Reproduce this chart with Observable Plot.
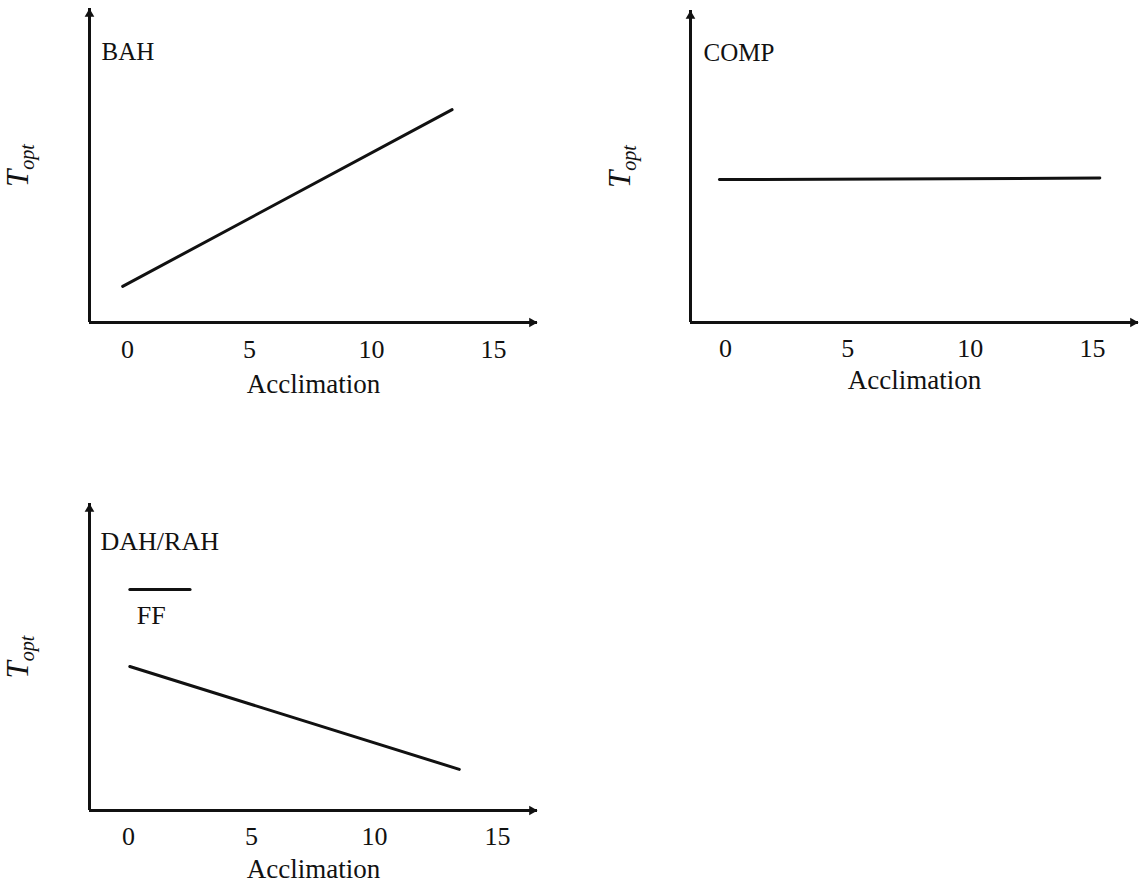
<!DOCTYPE html>
<html><head><meta charset="utf-8">
<script src="https://cdn.jsdelivr.net/npm/d3@7"></script>
<script src="https://cdn.jsdelivr.net/npm/@observablehq/plot@0.6"></script>
<style>
body{margin:0;background:#fff}
#wrap{position:relative;width:1140px;height:885px;overflow:hidden;background:#fff}
#wrap svg{position:absolute}
</style></head><body><div id="wrap"></div>
<script>
// ---- data ----
const acclimationTicks = [0, 5, 10, 15];
const xLabel = "Acclimation";
const yLabel = "Topt";
const panelTitles = ["BAH", "COMP", "DAH/RAH"];
const bahX = [-0.2, 13.3];
const bahY = [1.15, 6.78];
const compX = [-0.25, 15.3];
const compY = [4.58, 4.63];
const dahX = [0.05, 13.45];
const dahY = [4.69, 1.34];
const ffX = [0.05, 2.5];
const ffY = [7.2, 7.2];
const ffLabel = "FF";

const INK = "#111";
const FONT = "'Liberation Serif', 'Times New Roman', serif";
const wrap = document.getElementById("wrap");

function panel(o) {
  const svg = Plot.plot({
    width: o.width, height: o.height,
    marginLeft: o.marginLeft, marginRight: o.marginRight,
    marginTop: o.marginTop, marginBottom: o.marginBottom,
    style: {fontFamily: FONT, fontSize: "26px", background: "transparent", overflow: "visible", color: INK},
    x: {domain: o.xDomain},
    y: {domain: [0, 10]},
    marks: [
      Plot.axisX({ticks: acclimationTicks, tickSize: 0, tickPadding: o.tickPadding, fontSize: 26,
        label: xLabel, labelAnchor: "center", labelOffset: o.labelOffset, labelArrow: "none", fill: INK}),
      Plot.axisY({ticks: [], label: yLabel, labelAnchor: "center", labelOffset: o.yLabelOffset, labelArrow: "none", fill: INK}),
      Plot.ruleY([0], {stroke: INK, strokeWidth: 3}),
      Plot.ruleX([o.xDomain[0]], {stroke: INK, strokeWidth: 3}),
      Plot.dot([0], {x: o.xDomain[1], y: 0, symbol: "triangle", rotate: 90, r: 3.6, fill: INK, stroke: "none", dx: -5.5}),
      Plot.dot([0], {x: o.xDomain[0], y: 10, symbol: "triangle", r: 3.6, fill: INK, stroke: "none", dy: 5.5}),
      Plot.line(o.lineX, {x: o.lineX, y: o.lineY, stroke: INK, strokeWidth: 3}),
      Plot.text([o.title], {frameAnchor: "top-left", dx: o.titleDx, dy: o.titleDy, textAnchor: "start",
        lineAnchor: "bottom", fontSize: o.titleSize || 25, fill: INK}),
      ...(o.extra || [])
    ]
  });
  svg.style.left = o.left + "px";
  svg.style.top = o.top + "px";
  svg.querySelectorAll('g[aria-label="x-axis label"] text').forEach(t => t.setAttribute("font-size", 27));
  const yl = svg.querySelector('g[aria-label="y-axis label"] text');
  if (yl) {
    const ns = "http://www.w3.org/2000/svg";
    yl.textContent = "";
    const t1 = document.createElementNS(ns, "tspan");
    t1.setAttribute("font-style", "italic");
    t1.setAttribute("font-size", 31);
    t1.textContent = yLabel.slice(0, 1);
    const t2 = document.createElementNS(ns, "tspan");
    t2.setAttribute("font-style", "italic");
    t2.setAttribute("font-size", 20);
    t2.setAttribute("dy", 6);
    t2.textContent = yLabel.slice(1);
    yl.appendChild(t1); yl.appendChild(t2);
  }
  wrap.appendChild(svg);
}

panel({left: 0, top: 0, width: 570, height: 410, marginLeft: 89, marginRight: 33, marginTop: 8, marginBottom: 88,
  xDomain: [-1.56, 16.8], lineX: bahX, lineY: bahY, title: panelTitles[0], titleDx: 12, titleDy: 51,
  tickPadding: 17, labelOffset: 70, yLabelOffset: 80});

panel({left: 600, top: 0, width: 540, height: 410, marginLeft: 90, marginRight: 2, marginTop: 10, marginBottom: 88,
  xDomain: [-1.43, 16.88], lineX: compX, lineY: compY, title: panelTitles[1], titleDx: 13, titleDy: 50,
  tickPadding: 16, labelOffset: 66, yLabelOffset: 79});

panel({left: 0, top: 480, width: 570, height: 405, marginLeft: 89, marginRight: 33, marginTop: 23, marginBottom: 75,
  xDomain: [-1.59, 16.63], lineX: dahX, lineY: dahY, title: panelTitles[2], titleDx: 11, titleDy: 46, titleSize: 26,
  tickPadding: 16, labelOffset: 67, yLabelOffset: 80,
  extra: [
    Plot.line(ffX, {x: ffX, y: ffY, stroke: INK, strokeWidth: 3}),
    Plot.text([ffLabel], {x: ffX[0], y: ffY[0], dx: 7, dy: 35, textAnchor: "start", lineAnchor: "bottom", fontSize: 26, fill: INK})
  ]});
</script></body></html>
